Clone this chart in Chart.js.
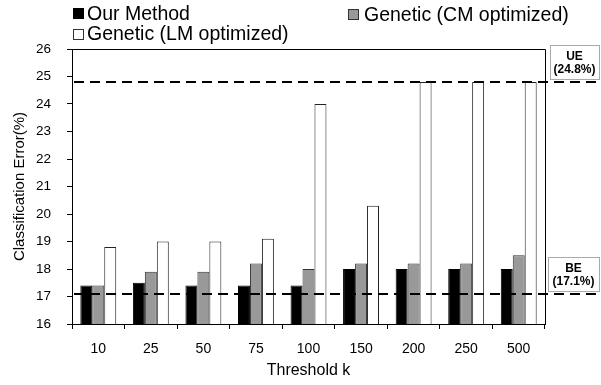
<!DOCTYPE html>
<html>
<head>
    <meta charset="UTF-8">
    <title>Classification Error vs Threshold k</title>
    <script src="https://cdn.jsdelivr.net/npm/chart.js"></script>
    <style>
        html, body { margin: 0; padding: 0; background: #fff; }
        #wrap { width: 601px; height: 385px; position: relative; }
    </style>
</head>
<body>
    <div id="wrap"><canvas id="chart" width="601" height="385"></canvas></div>

    <script>
        // data
        const thresholds = ['10', '25', '50', '75', '100', '150', '200', '250', '500'];
        const ourMethod = [17.4, 17.5, 17.4, 17.4, 17.4, 18.0, 18.0, 18.0, 18.0];
        const geneticCM = [17.4, 17.9, 17.9, 18.2, 18.0, 18.2, 18.2, 18.2, 18.5];
        const geneticLM = [18.8, 19.0, 19.0, 19.1, 24.0, 20.3, 24.8, 24.8, 24.8];
        const seriesNames = ['Our Method', 'Genetic (CM optimized)', 'Genetic (LM optimized)'];
        const refLines = [
            { name: 'UE', value: 24.8, label: '(24.8%)' },
            { name: 'BE', value: 17.1, label: '(17.1%)' }
        ];

        const FONT = "'Liberation Sans', Arial, sans-serif";

        // top/right frame, dashed reference lines with their boxes, legend
        const extras = {
            id: 'extras',
            afterDatasetsDraw(chart) {
                const ctx = chart.ctx;
                const area = chart.chartArea;
                const y = chart.scales.y;
                ctx.save();

                // frame
                ctx.strokeStyle = '#000';
                ctx.lineWidth = 1;
                ctx.beginPath();
                ctx.moveTo(area.left, area.top + 0.5);
                ctx.lineTo(area.right + 0.5, area.top + 0.5);
                ctx.lineTo(area.right + 0.5, area.bottom);
                ctx.stroke();

                // label boxes
                const boxes = [
                    { x: 550, top: 45, bottom: 79 },
                    { x: 548, top: 257, bottom: 291 }
                ];
                refLines.forEach((r, i) => {
                    const b = boxes[i];
                    ctx.setLineDash([1, 1]);
                    ctx.strokeStyle = '#555';
                    ctx.lineWidth = 1;
                    ctx.strokeRect(b.x + 0.5, b.top + 0.5, 599 - b.x, b.bottom - b.top);
                    ctx.setLineDash([]);
                    ctx.fillStyle = '#000';
                    ctx.font = 'bold 12px ' + FONT;
                    ctx.textAlign = 'center';
                    ctx.textBaseline = 'middle';
                    const cx = (b.x + 599) / 2;
                    ctx.fillText(r.name, cx, b.top + 12);
                    ctx.fillText(r.label, cx, b.top + 25);
                });

                // dashed lines
                ctx.strokeStyle = '#000';
                ctx.lineWidth = 2;
                ctx.setLineDash([10, 6]);
                refLines.forEach(r => {
                    const py = Math.round(y.getPixelForValue(r.value));
                    ctx.beginPath();
                    ctx.moveTo(area.left + 2, py);
                    ctx.lineTo(600, py);
                    ctx.stroke();
                });
                ctx.setLineDash([]);

                // legend
                const items = [
                    { x: 73, y: 8, fill: '#000', stroke: '#000', tx: 87, ty: 20 },
                    { x: 348, y: 9, fill: '#999', stroke: '#333', tx: 364, ty: 21 },
                    { x: 73, y: 29, fill: '#fff', stroke: '#333', tx: 87, ty: 40 }
                ];
                ctx.font = '19.5px ' + FONT;
                ctx.textAlign = 'left';
                ctx.textBaseline = 'alphabetic';
                items.forEach((it, i) => {
                    ctx.fillStyle = it.fill;
                    ctx.fillRect(it.x, it.y, 11, 11);
                    ctx.strokeStyle = it.stroke;
                    ctx.lineWidth = 1;
                    ctx.strokeRect(it.x + 0.5, it.y + 0.5, 10, 10);
                    ctx.fillStyle = '#000';
                    ctx.fillText(seriesNames[i], it.tx, it.ty);
                });

                ctx.restore();
            }
        };

        new Chart(document.getElementById('chart'), {
            type: 'bar',
            data: {
                labels: thresholds,
                datasets: [
                    { label: seriesNames[0], data: ourMethod, backgroundColor: '#000', borderColor: '#000', borderWidth: 1 },
                    { label: seriesNames[1], data: geneticCM, backgroundColor: '#999', borderColor: '#333', borderWidth: 1 },
                    { label: seriesNames[2], data: geneticLM, backgroundColor: '#fff', borderColor: '#222', borderWidth: 1 }
                ]
            },
            options: {
                responsive: false,
                animation: false,
                events: [],
                categoryPercentage: 0.683,
                barPercentage: 1.0,
                layout: { padding: { top: 49, right: 56, left: 0, bottom: 0 } },
                plugins: {
                    legend: { display: false },
                    tooltip: { enabled: false }
                },
                scales: {
                    x: {
                        offset: true,
                        afterFit: s => { s.height = 61; },
                        grid: { offset: true, drawOnChartArea: false, drawTicks: true, tickLength: 5, color: '#000' },
                        border: { color: '#000', width: 1 },
                        ticks: { color: '#000', padding: 12, font: { family: FONT, size: 14 } },
                        title: { display: true, text: 'Threshold k', color: '#000', padding: { top: 0, bottom: 5 }, font: { family: FONT, size: 16 } }
                    },
                    y: {
                        min: 16,
                        max: 26,
                        afterFit: s => { s.width = 72; },
                        grid: { drawOnChartArea: false, drawTicks: true, tickLength: 5, color: '#000' },
                        border: { color: '#000', width: 1 },
                        ticks: { stepSize: 1, color: '#000', padding: 16, font: { family: FONT, size: 13.5 } },
                        title: { display: true, text: 'Classification Error(%)', color: '#000', padding: { top: 11, bottom: 0 }, font: { family: FONT, size: 15 } }
                    }
                }
            },
            plugins: [extras]
        });
    </script>
</body>
</html>
